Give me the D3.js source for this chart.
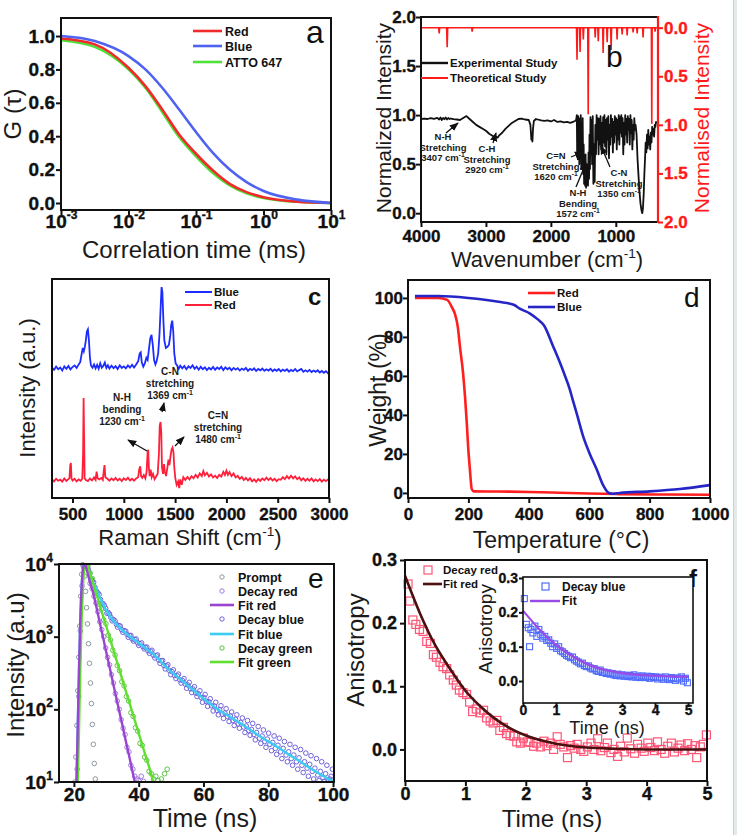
<!DOCTYPE html>
<html>
<head>
<meta charset="utf-8">
<script src="https://cdn.jsdelivr.net/npm/d3@7"></script>
<style>
body { margin:0; background:#fff; }
svg { display:block; font-family:"Liberation Sans", Arial, sans-serif; }
</style>
</head>
<body>
<svg id="fig" width="737" height="835"></svg>
<script>
/// ---------- data ----------
// a : FCS autocorrelation
var fcsTau   = [0.001, 0.00316, 0.01, 0.0178, 0.0316, 0.0562, 0.1, 0.178, 0.316, 0.562, 1, 3.16, 10];
var fcsRed   = [0.985, 0.95, 0.81, 0.70, 0.56, 0.41, 0.295, 0.195, 0.115, 0.065, 0.035, 0.008, 0.0];
var fcsBlue  = [1.0, 0.97, 0.88, 0.80, 0.69, 0.56, 0.425, 0.30, 0.20, 0.125, 0.072, 0.02, 0.0];
var fcsGreen = [0.975, 0.935, 0.80, 0.69, 0.545, 0.395, 0.28, 0.18, 0.105, 0.058, 0.03, 0.007, 0.0];
var fcsTicks = [0.001, 0.01, 0.1, 1, 10];
var fcsTickSup = ['-3', '-2', '-1', '0', '1'];

// b : FTIR, experimental (left axis) and theoretical (right axis, reversed)
var irExp = [[4000,0.96],[3950,0.965],[3900,0.96],[3850,0.97],[3800,0.962],[3750,0.972],[3720,0.955],[3700,0.975],
  [3680,0.95],[3660,0.97],[3640,0.958],[3620,0.975],[3600,0.955],[3580,0.97],[3560,0.96],[3540,0.965],[3500,0.958],
  [3450,0.955],[3400,0.95],[3350,0.97],[3300,0.99],[3260,0.965],[3200,0.93],[3150,0.9],[3100,0.88],[3050,0.86],
  [3000,0.84],[2950,0.81],[2900,0.79],[2870,0.77],[2850,0.78],[2820,0.77],[2800,0.79],[2750,0.82],[2700,0.86],
  [2650,0.89],[2600,0.92],[2550,0.94],[2500,0.96],[2450,0.965],[2400,0.955],[2340,0.95],[2315,0.9],[2300,0.75],
  [2292,0.8],[2284,0.73],[2275,0.86],[2262,0.94],[2230,0.96],[2200,0.955],[2150,0.945],[2100,0.94],[2050,0.945],
  [2000,0.935],[1950,0.95],[1900,0.93],[1850,0.935],[1800,0.925],[1750,0.93],[1700,0.92],[1660,0.93],[1630,0.94],
  [1610,0.95],[1600,1.0],[1595,0.6],[1590,0.98],[1585,0.55],[1580,0.99],[1575,0.62],[1568,0.97],[1562,0.5],[1555,0.96],
  [1548,0.58],[1540,1.0],[1532,0.45],[1525,0.92],[1518,0.52],[1510,0.97],[1502,0.4],[1495,0.7],[1488,0.3],[1480,0.55],
  [1472,0.28],[1465,0.6],[1458,0.26],[1450,0.45],[1442,0.3],[1435,0.5],[1428,0.28],[1420,0.62],[1412,0.35],[1405,0.8],
  [1398,0.45],[1390,0.98],[1380,0.6],[1372,0.95],[1365,0.5],[1355,0.99],[1345,0.3],[1335,0.7],[1325,0.32],[1315,0.9],
  [1305,0.6],[1295,1.0],[1285,0.75],[1275,0.97],[1265,0.6],[1255,0.96],[1245,0.7],[1235,0.99],[1225,0.65],[1215,0.92],
  [1205,0.62],[1195,0.98],[1185,0.72],[1175,1.0],[1165,0.68],[1155,0.95],[1145,0.6],[1135,0.97],[1125,0.75],[1115,0.99],
  [1105,0.56],[1095,0.9],[1085,0.7],[1075,1.0],[1065,0.78],[1055,0.96],[1045,0.62],[1035,0.93],[1025,0.72],[1015,0.99],
  [1005,0.8],[995,0.97],[985,0.65],[975,0.95],[965,0.75],[955,1.0],[945,0.7],[935,0.98],[925,0.82],[915,1.0],[905,0.78],
  [895,0.97],[885,0.6],[875,0.92],[865,0.7],[855,1.0],[845,0.8],[835,0.96],[825,0.72],[815,0.99],[805,0.85],[795,0.96],
  [785,0.7],[775,1.0],[765,0.82],[755,0.95],[745,0.65],[735,0.9],[725,0.75],[715,0.97],[705,0.85],[695,0.9],[680,0.8],
  [665,0.55],[650,0.38],[635,0.22],[620,0.1],[605,0.03],[592,0.0],[582,0.05],[570,0.2],[560,0.4],[550,0.55],[540,0.72],
  [530,0.62],[520,0.8],[510,0.66],[500,0.85],[490,0.7],[480,0.78],[470,0.65],[460,0.82],[450,0.72],[440,0.88],[430,0.8],
  [420,0.86],[410,0.78],[400,0.9],[390,0.88],[380,0.93],[370,0.92]];
var irTheo = [[4000,0],[3728,0],[3720,0.06],[3712,0],[3605,0],[3597,0.2],[3589,0],[3220,0],[3212,0.04],[3204,0],
  [1605,0],[1597,0.33],[1590,0],[1558,0],[1550,0.25],[1543,0],[1507,0],[1500,0.12],[1493,0],[1432,0],[1425,0.89],
  [1418,0],[1324,0],[1317,0.1],[1310,0],[1277,0],[1270,0.14],[1263,0],[1202,0],[1195,0.26],[1188,0],[1140,0],
  [1133,0.15],[1126,0],[1079,0],[1072,0.23],[1065,0],[987,0],[980,0.12],[973,0],[909,0],[902,0.07],[895,0],[832,0],
  [825,0.08],[818,0],[740,0],[733,0.05],[726,0],[678,0],[671,0.06],[664,0],[587,0],[580,0.1],[573,0],[452,0],
  [446,0.99],[440,0],[401,0],[395,0.04],[389,0],[350,0]];

// c : Raman
var ramanBlue = [[300,59.5],[320,58.5],[340,60],[360,58.8],[380,59.6],[400,58.2],[420,60.1],[440,59],[460,60.3],[480,58.7],
  [500,59.8],[520,60.5],[540,59.4],[560,61],[575,62],[590,66],[600,68.5],[610,67],[620,69],[630,72],[640,76],[650,77],
  [660,72],[670,64],[680,60.5],[695,59.5],[710,61],[725,59.2],[740,60.8],[755,59],[770,61.5],[785,59.5],[800,60.3],
  [815,61.8],[830,59.4],[845,60.6],[860,59.1],[880,60.4],[900,59.3],[920,60.2],[940,58.9],[960,60.6],[980,59.4],
  [1000,60.1],[1020,59.2],[1040,60.5],[1060,59.5],[1080,60.8],[1100,59.6],[1120,61],[1140,62.5],[1155,66],[1165,66.5],
  [1175,62],[1190,60],[1205,61.5],[1220,64],[1232,63],[1245,68],[1258,73],[1270,74.5],[1282,70],[1295,63],[1308,61],
  [1320,62.5],[1335,66],[1348,75],[1360,88],[1368,96.3],[1376,94],[1385,82],[1395,72],[1410,68.5],[1425,69],[1440,70],
  [1452,74],[1462,79],[1472,81],[1482,76],[1492,66],[1505,61.5],[1520,60.5],[1535,59],[1550,60.4],[1570,59.2],[1590,60.3],
  [1610,58.8],[1630,60.1],[1650,59.4],[1670,60.6],[1690,59],[1710,60],[1730,58.6],[1750,59.9],[1770,58.8],[1790,59.7],
  [1810,58.4],[1830,59.5],[1850,58.7],[1870,59.8],[1890,58.5],[1910,59.6],[1930,58.9],[1950,59.9],[1970,58.4],[1990,59.7],
  [2010,58.8],[2030,59.5],[2050,58.3],[2070,59.4],[2090,58.6],[2110,59.3],[2130,58.2],[2150,59.1],[2170,58.5],[2190,59.4],
  [2210,58.1],[2230,59],[2250,58.4],[2270,59.2],[2290,58],[2310,58.9],[2330,58.3],[2350,59.1],[2370,58.1],[2390,58.8],
  [2410,58.2],[2430,59],[2450,57.9],[2470,58.7],[2490,58.1],[2510,58.9],[2530,57.8],[2550,58.6],[2570,58],[2590,58.8],
  [2610,57.7],[2630,58.5],[2650,57.9],[2670,58.9],[2690,57.8],[2710,58.4],[2730,58.9],[2750,57.6],[2770,58.3],[2790,57.7],
  [2810,58.5],[2830,57.5],[2850,58.2],[2870,57.6],[2890,58.3],[2910,57.3],[2930,58],[2950,57.2],[2970,57.9],[2990,57],[3000,57.4]];
var ramanRed = [[300,8.5],[320,7.6],[340,8.8],[360,7.9],[380,8.4],[400,7.5],[420,8.9],[440,7.8],[460,8.6],[470,9],[478,15],
  [484,16],[490,9],[500,8],[520,8.8],[540,7.6],[560,8.5],[580,7.9],[595,8.8],[603,20],[608,45.7],[613,28],[618,9],[630,8.2],
  [650,7.7],[670,8.9],[690,8],[710,9.4],[725,8.3],[735,12],[745,9],[760,8.5],[780,9.1],[795,8.2],[805,12.5],[812,15],
  [820,9.5],[840,8.8],[860,7.9],[880,8.9],[900,8.1],[920,9.2],[940,8],[960,8.8],[980,7.7],[1000,9],[1020,8.2],[1040,9.3],
  [1060,8],[1080,8.8],[1100,7.9],[1120,8.9],[1140,9.5],[1150,13],[1160,14.5],[1168,10],[1180,9.2],[1195,10.5],[1210,9],
  [1222,12],[1232,21],[1238,22],[1244,14],[1252,10],[1262,13],[1272,9.5],[1285,11],[1300,8.6],[1315,9.8],[1330,11],
  [1342,20],[1350,33],[1358,34.7],[1365,30],[1372,14],[1382,11],[1392,15.5],[1400,12],[1412,10],[1425,14],[1435,17.5],
  [1445,15],[1455,19],[1465,22],[1475,23],[1484,21],[1492,14],[1502,9],[1515,6],[1530,7.5],[1540,4.5],[1550,8.5],
  [1565,6],[1580,9.5],[1600,8.2],[1620,9.6],[1640,8.5],[1660,10],[1680,9],[1700,10.6],[1720,9.3],[1740,11.2],[1760,10],
  [1775,12.3],[1790,10.4],[1810,11.5],[1830,9.8],[1850,10.8],[1870,9.4],[1890,10.2],[1910,9.1],[1930,10.6],[1950,9.8],
  [1970,11.9],[1985,10.5],[2000,12.5],[2015,10.6],[2030,11.8],[2050,10],[2070,11.2],[2090,9.4],[2110,10.1],[2130,8.7],
  [2150,9.6],[2170,8.2],[2190,9.2],[2210,8],[2230,9],[2250,7.6],[2270,8.5],[2290,7.4],[2310,8.6],[2330,7.8],[2350,8.9],
  [2370,8.1],[2390,9.3],[2410,8.2],[2430,9.1],[2450,8],[2470,8.8],[2490,7.7],[2510,8.6],[2530,8.3],[2550,9.5],[2570,8.6],
  [2590,10],[2610,8.9],[2630,10.2],[2650,9],[2670,9.9],[2690,8.6],[2710,9.4],[2730,8.1],[2750,9],[2770,7.8],[2790,8.8],
  [2810,7.9],[2830,8.9],[2850,7.6],[2870,8.5],[2890,7.7],[2910,8.6],[2930,7.5],[2950,8.4],[2970,7.7],[2990,8.5],[3000,8]];

// d : TGA
var tgaRed  = [[23,100],[60,100],[100,100],[130,99],[146,95],[155,92],[165,85],[172,75],[182,62],[189,49],[195,35],
  [199,24],[205,12],[211,2],[218,0.8],[300,0.7],[400,0.5],[500,0.1],[600,-0.3],[700,-0.6],[850,-0.8],[1000,-0.9]];
var tgaBlue = [[23,101],[100,101],[200,100],[300,98],[350,96.5],[370,94.5],[404,92],[430,89],[450,86],[481,75],
  [500,68],[520,60],[536,53],[545,48],[560,40],[580,29],[602,20],[625,12],[646,4],[665,0],[680,-0.4],[700,0],
  [800,0.8],[900,2],[1000,4]];

// e : TCSPC decays
var prompt = [[20.3,10],[20.6,22],[20.9,60],[21.2,180],[21.5,520],[21.8,1400],[22.1,3600],[22.4,7200],[22.7,9800],
  [23.0,9200],[23.3,6800],[23.6,4200],[23.9,2500],[24.2,1500],[24.5,800],[24.8,430],[25.1,230],[25.4,120],[25.7,62],
  [26.0,33],[26.3,18],[26.6,11]];
var decayRed = [[21.0,15],[21.5,150],[22,1200],[22.5,5000],[23,9000],[24.3,9000],[25,5400],[25.6,4600],[26.2,3600],
  [26.8,2900],[27.4,2200],[28,1600],[28.6,1250],[29.2,1000],[29.8,700],[30.4,520],[31,410],[31.6,300],[32.2,230],
  [32.8,165],[33.4,130],[34,100],[34.6,72],[35.2,55],[35.8,45],[36.4,30],[37,26],[37.6,17],[38.2,15],[38.8,12],
  [39.4,11],[40,10.5],[40.8,12],[41.5,10.2]];
var fitRed = [[20.8,10],[21.2,60],[21.6,400],[22.0,1800],[22.4,5000],[22.8,8500],[23.2,9900],[23.6,9600],[24.0,8200],
  [25,5500],[26,3900],[27,2500],[28,1550],[29,980],[30,610],[31,385],[32,240],[33,150],[34,94],[35,60],[36,37],
  [37,23.5],[38,14.5],[38.8,10]];
var decayBlue = [[24.5,8300],[25.3,6200],[26.1,5600],[27,4200],[27.8,3800],[28.6,2900],[29.4,2700],[30.2,2100],[31,2050],
  [31.8,1650],[32.7,1650],[33.5,1350],[34.3,1400],[35.1,1150],[36,1190],[36.8,980],[37.6,1040],[38.4,870],[39.2,930],
  [40,760],[40.9,820],[41.7,680],[42.5,720],[43.3,590],[44.1,650],[45,510],[45.8,560],[46.6,430],[47.4,470],[48.2,360],
  [49,410],[49.9,300],[50.7,350],[51.5,265],[52.3,305],[53.1,230],[54,265],[54.8,195],[55.6,235],[56.4,170],[57.2,205],
  [58,150],[58.9,180],[59.7,125],[60.5,160],[61.3,110],[62.1,140],[63,95],[63.8,125],[64.6,84],[65.4,112],[66.2,75],
  [67,102],[67.9,68],[68.7,92],[69.5,60],[70.3,84],[71.1,55],[72,76],[72.8,48],[73.6,70],[74.4,44],[75.2,64],[76,38],
  [76.9,58],[77.7,34],[78.5,52],[79.3,30],[80.1,47],[81,27],[81.8,43],[82.6,24],[83.4,40],[84.2,21],[85,36],[85.9,19],
  [86.7,33],[87.5,17],[88.3,30],[89.1,15],[90,28],[90.8,13.5],[91.6,25],[92.4,12],[93.2,23],[94,11],[94.9,21],[95.7,10.5],
  [96.5,19],[97.3,10.2],[98.1,17],[99,11],[99.8,15],
  [24.9,7400],[25.7,5900],[26.5,4800],[27.4,4000],[28.2,3250],[29,2850],[29.8,2450],[30.6,2150],[31.4,1850],[32.2,1720],
  [33.1,1480],[33.9,1420],[34.7,1250],[35.5,1210],[36.4,1080],[37.2,1030],[38,930],[38.8,910],[39.6,830],[40.4,800],
  [41.3,730],[42.1,710],[42.9,640],[43.7,630],[44.5,560],[45.4,545],[46.2,475],[47,465],[47.8,400],[48.6,395],[49.4,345],
  [50.3,330],[51.1,292],[51.9,290],[52.7,255],[53.5,250],[54.4,222],[55.2,216],[56,192],[56.8,190],[57.6,168],[58.4,164],
  [59.3,145],[60.1,146],[60.9,128],[61.7,127],[62.5,112],[63.4,111],[64.2,97],[65,99],[65.8,86],[66.6,89],[67.4,80],
  [68.3,81],[69.1,70],[69.9,73],[70.7,63],[71.5,66],[72.4,57],[73.2,59],[74,51],[74.8,53],[75.6,45],[76.4,48],[77.3,40],
  [78.1,43],[78.9,36],[79.7,39],[80.5,33],[81.4,35],[82.2,29],[83,32],[83.8,26],[84.6,29],[85.5,23.5],[86.3,26],[87.1,21],
  [87.9,23.5],[88.7,19],[89.5,21.5],[90.4,17],[91.2,19],[92,15.5],[92.8,17.5],[93.6,14],[94.4,15.5],[95.3,12.5],[96.1,14],
  [96.9,11.5],[97.7,13],[98.5,10.6],[99.4,12]];
var fitBlue = [[20.8,10],[21.2,60],[21.6,400],[22.0,1800],[22.4,5000],[22.8,8500],[23.2,9900],[23.6,9700],[24,9000],
  [25,7000],[26,5500],[27,4400],[28,3500],[29,2800],[30,2300],[31,1950],[32,1700],[34,1350],[36,1120],[38,950],[40,820],
  [42,700],[44,600],[46,500],[48,400],[50,330],[52,280],[54,235],[56,198],[58,168],[60,140],[62,120],[64,103],[66,90],
  [68,80],[70,70],[72,62],[74,54],[76,47],[78,41],[80,36],[82,32],[84,28],[86,24.5],[88,21.5],[90,19],[92,16.5],
  [94,14.5],[96,12.8],[98,11.4],[100,10.2]];
var decayGreen = [[24.3,9500],[25,7500],[25.7,6300],[26.4,4600],[27.1,3900],[27.8,2800],[28.5,2400],[29.2,1700],
  [29.9,1500],[30.6,1050],[31.3,900],[32,650],[32.7,560],[33.4,400],[34.1,340],[34.8,240],[35.5,210],[36.2,150],
  [36.9,130],[37.6,90],[38.3,80],[39,56],[39.7,50],[40.4,34],[41.1,32],[41.8,22],[42.5,20],[43.2,14],[43.9,13],
  [44.6,11],[45.3,12],[46,10.5],[47,11],[48,13],[48.8,15]];
var fitGreen = [[21.2,10],[21.6,60],[22.0,400],[22.4,1800],[22.8,5000],[23.2,8600],[23.6,9900],[24.0,9700],[25,7300],
  [26,5300],[28,2700],[30,1380],[32,700],[34,355],[36,180],[38,92],[40,47],[42,24],[44,12.2],[44.5,10]];

// f : anisotropy
var anisoRed = [[0.05,0.262],[0.08,0.235],[0.13,0.205],[0.18,0.198],[0.24,0.19],[0.3,0.187],[0.36,0.171],[0.42,0.168],
  [0.47,0.15],[0.52,0.146],[0.58,0.138],[0.63,0.131],[0.69,0.128],[0.74,0.118],[0.8,0.11],[0.85,0.102],[0.9,0.094],
  [0.96,0.09],[1.02,0.087],[1.07,0.075],[1.12,0.06],[1.18,0.064],[1.24,0.058],[1.3,0.062],[1.35,0.05],[1.41,0.045],
  [1.46,0.042],[1.52,0.046],[1.57,0.03],[1.63,0.035],[1.68,0.025],[1.74,0.022],[1.8,0.021],[1.85,0.012],[1.91,0.01],
  [1.96,0.018],[2.02,0.012],[2.07,0.011],[2.13,0.005],[2.18,0.01],[2.24,0.004],[2.3,0.013],[2.35,0.006],[2.41,0.01],
  [2.46,0.0],[2.52,0.02],[2.57,0.008],[2.63,0.004],[2.69,-0.013],[2.74,0.006],[2.8,0.002],[2.85,0.008],[2.91,0.0],
  [2.96,-0.003],[3.02,0.004],[3.08,0.01],[3.13,0.0],[3.19,0.017],[3.24,-0.002],[3.3,0.003],[3.35,0.01],[3.41,-0.005],
  [3.46,0.0],[3.52,-0.011],[3.57,0.005],[3.63,-0.004],[3.68,0.018],[3.74,0.001],[3.8,-0.006],[3.85,0.008],[3.91,0.002],
  [3.96,-0.003],[4.02,0.01],[4.07,0.003],[4.13,-0.002],[4.18,0.012],[4.24,0.0],[4.3,-0.006],[4.35,0.005],[4.41,0.01],
  [4.46,-0.004],[4.52,0.002],[4.57,0.007],[4.63,-0.002],[4.68,0.009],[4.74,0.0],[4.8,0.006],[4.83,-0.013],[4.89,0.004],
  [4.94,0.008],[4.99,0.023]];
var anisoFitRed = [[0,0.275],[0.25,0.215],[0.5,0.165],[0.75,0.127],[1.0,0.093],[1.25,0.068],[1.5,0.048],[1.75,0.033],
  [2,0.022],[2.5,0.009],[3,0.003],[3.5,0.001],[4,0.0],[5,0.0]];
var anisoBlue = [[0.04,0.24],[0.1,0.165],[0.16,0.155],[0.2,0.1],[0.24,0.15],[0.3,0.14],[0.36,0.16],[0.42,0.13],[0.48,0.15],
  [0.54,0.135],[0.6,0.125],[0.66,0.13],[0.72,0.118],[0.78,0.12],[0.84,0.11],[0.9,0.1],[0.96,0.108],[1.02,0.095],[1.08,0.1],
  [1.14,0.088],[1.2,0.085],[1.26,0.08],[1.32,0.075],[1.38,0.072],[1.44,0.068],[1.5,0.07],[1.56,0.062],[1.62,0.058],
  [1.68,0.055],[1.74,0.05],[1.8,0.052],[1.86,0.045],[1.92,0.042],[1.98,0.044],[2.04,0.038],[2.1,0.035],[2.16,0.036],
  [2.22,0.03],[2.28,0.028],[2.34,0.032],[2.4,0.025],[2.46,0.026],[2.52,0.022],[2.58,0.024],[2.64,0.02],[2.7,0.022],
  [2.76,0.018],[2.82,0.016],[2.88,0.02],[2.94,0.015],[3.0,0.018],[3.06,0.014],[3.12,0.017],[3.18,0.013],[3.24,0.016],
  [3.3,0.012],[3.36,0.018],[3.42,0.011],[3.48,0.014],[3.54,0.01],[3.6,0.015],[3.66,0.012],[3.72,0.01],[3.78,0.014],
  [3.84,0.008],[3.9,0.013],[3.96,0.01],[4.02,0.012],[4.08,0.006],[4.14,0.011],[4.2,0.009],[4.26,0.005],[4.32,0.012],
  [4.38,0.008],[4.44,0.004],[4.5,0.01],[4.56,0.007],[4.62,0.002],[4.68,0.009],[4.74,0.006],[4.8,0.012],[4.86,0.0],
  [4.92,0.008],[4.98,-0.005]];
var anisoFitBlue = [[0,0.205],[0.5,0.15],[1,0.105],[1.5,0.072],[2,0.047],[2.5,0.032],[3,0.023],[3.5,0.018],[4,0.015],[5,0.012]];

/// ---------- helpers ----------
var svg = d3.select('#fig');
var defs = svg.append('defs');
defs.append('marker').attr('id','arr').attr('viewBox','0 0 10 10').attr('refX',9).attr('refY',5)
	.attr('markerWidth',7).attr('markerHeight',7).attr('orient','auto-start-reverse')
	.append('path').attr('d','M0,1 L10,5 L0,9 Z').attr('fill','#111');

// grey strip on the right edge of the scan
svg.append('rect').attr('x',733).attr('y',0).attr('width',4).attr('height',835).attr('fill','#e2eaec');
svg.append('line').attr('x1',733.5).attr('x2',733.5).attr('y1',0).attr('y2',835).attr('stroke','#c5d3d7');

var fmtInt = d3.format('d'), fmt1 = d3.format('.1f');

// lx : label x relative to the axis, ly : absolute label baseline (bottom axes)
function axis(gen, tx, ty, fs, col, lx, ly) {
	var g = svg.append('g').attr('transform','translate(' + tx + ',' + ty + ')').call(gen)
		.attr('font-family', null).attr('font-size', null).attr('font-weight', 'bold');
	g.select('.domain').remove();
	g.selectAll('.tick line').attr('stroke', col).attr('stroke-width', 2);
	g.selectAll('.tick text').attr('fill', col).style('font-size', fs + 'px').style('font-weight','bold')
		.attr('stroke', col).attr('stroke-width', 0.35);
	if (lx !== null) g.selectAll('.tick text').attr('x', lx);
	if (ly !== null) g.selectAll('.tick text').attr('y', ly - ty).attr('dy', null);
	return g;
}
function frame(x0, y0, x1, y1, sw) {
	svg.append('rect').attr('x',x0).attr('y',y0).attr('width',x1 - x0).attr('height',y1 - y0)
		.attr('fill','none').attr('stroke','#111').attr('stroke-width', sw || 2);
}
function title(txt, x, y, fs, rot, col, sup, after) {
	var t = svg.append('text').attr('text-anchor','middle').style('font-size', fs + 'px').attr('fill', col || '#1a1a1a');
	if (rot) t.attr('transform','translate(' + x + ',' + y + ') rotate(-90)').attr('dy','0.36em');
	else t.attr('x', x).attr('y', y);
	t.append('tspan').text(txt);
	if (sup) {
		t.append('tspan').attr('dy', -fs * 0.4).style('font-size', (fs * 0.62) + 'px').text(sup);
		t.append('tspan').attr('dy', fs * 0.4).text(after);
	}
	return t;
}
function label(txt, x, y, fs, bold, col) {
	return svg.append('text').attr('x', x).attr('y', y).style('font-size', fs + 'px')
		.style('font-weight', bold ? 'bold' : 'normal').attr('fill', col || '#111').text(txt);
}
// small multi-line bold annotation, last line gets the "-1" of cm-1
function note(lines, x, y, fs, lh) {
	var t = svg.append('text').attr('text-anchor','middle').style('font-size', fs + 'px')
		.style('font-weight','bold').attr('fill','#1a1a1a');
	lines.forEach(function(l, i) {
		t.append('tspan').attr('x', x).attr('y', y + i * lh).text(l);
		if (i == lines.length - 1) {
			t.append('tspan').attr('dy', -fs * 0.4).style('font-size', (fs * 0.7) + 'px').text('-1');
		}
	});
}
function arrow(x1, y1, x2, y2) {
	svg.append('line').attr('x1',x1).attr('y1',y1).attr('x2',x2).attr('y2',y2)
		.attr('stroke','#111').attr('stroke-width',1.3).attr('marker-end','url(#arr)');
}
function clip(id, x0, y0, x1, y1) {
	defs.append('clipPath').attr('id', id).append('rect').attr('x',x0).attr('y',y0).attr('width',x1 - x0).attr('height',y1 - y0);
}
function supLabels(g, sups, supSize) {
	g.selectAll('.tick text').each(function(d, i) {
		var t = d3.select(this);
		t.text('10');
		t.append('tspan').attr('dy', -supSize * 0.75).style('font-size', supSize + 'px').text(sups[i]);
	});
}

/// ---------- a : FCS ----------
var xA = d3.scaleLog().domain([1e-3, 10]).range([61, 331]);
var yA = d3.scaleLinear().domain([-0.042, 1.108]).range([210, 18]);
var lineA = d3.line().x(function(d){ return xA(d[0]); }).y(function(d){ return yA(d[1]); }).curve(d3.curveMonotoneX);
[[fcsGreen,'#4fe03a'],[fcsRed,'#f02a2a'],[fcsBlue,'#4f63f0']].forEach(function(s) {
	svg.append('path').datum(fcsTau.map(function(t, i){ return [t, s[0][i]]; }))
		.attr('d', lineA).attr('fill','none').attr('stroke', s[1]).attr('stroke-width', 2.6);
});
var gAx = axis(d3.axisBottom(xA).tickValues(fcsTicks).tickSize(5), 0, 210, 19, '#111', null, 228);
supLabels(gAx, fcsTickSup, 12);
axis(d3.axisLeft(yA).tickValues([0,0.2,0.4,0.6,0.8,1.0]).tickSize(5).tickFormat(fmt1), 61, 0, 19, '#111', -6, null);
frame(61, 18, 331, 210);
title('Correlation time (ms)', 194, 258, 24);
title('G (\u03c4)', 12, 114, 24, true);
[['Red','#f02a2a',31],['Blue','#4f63f0',46],['ATTO 647','#4fe03a',62]].forEach(function(l) {
	svg.append('line').attr('x1',193).attr('x2',222).attr('y1',l[2]).attr('y2',l[2]).attr('stroke',l[1]).attr('stroke-width',2.6);
	label(l[0], 225, l[2] + 4.5, 12.5, true);
});
label('a', 306, 43, 32, false);

/// ---------- b : FTIR ----------
var xB = d3.scaleLinear().domain([4000, 350]).range([421, 658]);
var yB = d3.scaleLinear().domain([-0.09, 2.0]).range([222, 17]);
var yB2 = d3.scaleLinear().domain([-0.11, 2.0]).range([17, 222]);
clip('clipB', 421, 17, 658, 222);
svg.append('path').datum(irTheo).attr('clip-path','url(#clipB)')
	.attr('d', d3.line().x(function(d){ return xB(d[0]); }).y(function(d){ return yB2(d[1]); }))
	.attr('fill','none').attr('stroke','#ff1a1a').attr('stroke-width',1.6);
svg.append('path').datum(irExp).attr('clip-path','url(#clipB)')
	.attr('d', d3.line().x(function(d){ return xB(d[0]); }).y(function(d){ return yB(d[1]); }))
	.attr('fill','none').attr('stroke','#111').attr('stroke-width',1.8).attr('stroke-linejoin','round');
axis(d3.axisBottom(xB).tickValues([4000,3000,2000,1000]).tickSize(5).tickFormat(fmtInt), 0, 222, 17, '#111', null, 242);
axis(d3.axisLeft(yB).tickValues([0,0.5,1.0,1.5,2.0]).tickSize(5).tickFormat(fmt1), 421, 0, 17, '#111', -5, null);
axis(d3.axisRight(yB2).tickValues([0,0.5,1.0,1.5,2.0]).tickSize(5).tickFormat(fmt1), 658, 0, 17, '#ff1a1a', 6, null);
frame(421, 17, 658, 222);
svg.append('line').attr('x1',658).attr('x2',658).attr('y1',16).attr('y2',223).attr('stroke','#ff1a1a').attr('stroke-width',2.2);
title('Wavenumber (cm', 547, 267, 22, false, null, '-1', ')');
title('Normalized Intensity', 383, 118, 21, true);
title('Normalised Intensity', 701, 118, 21, true, '#ff1a1a');
svg.append('line').attr('x1',421).attr('x2',448).attr('y1',63).attr('y2',63).attr('stroke','#111').attr('stroke-width',2.4);
label('Experimental Study', 450, 67, 11.5, true);
svg.append('line').attr('x1',421).attr('x2',448).attr('y1',78).attr('y2',78).attr('stroke','#ff1a1a').attr('stroke-width',2);
label('Theoretical Study', 450, 82, 11.5, true);
label('b', 606, 67, 30, false);
note(['N-H','Stretching','3407 cm'], 443, 140, 9.5, 10.5);
arrow(446, 133, 458, 123);
note(['C-H','Stretching','2920 cm'], 487, 152, 9.5, 10.5);
arrow(493, 143, 496, 133);
note(['C=N','Stretching','1620 cm'], 556, 159, 9.5, 10.5);
arrow(571, 157, 583, 152);
note(['N-H','Bending','1572 cm'], 578, 196, 9.5, 10.5);
arrow(576, 187, 586, 163);
note(['C-N','Stretching','1350 cm'], 619, 176, 9.5, 10.5);
arrow(610, 167, 601, 146);

/// ---------- c : Raman ----------
var xC = d3.scaleLinear().domain([300, 3000]).range([52, 329]);
var yC = d3.scaleLinear().domain([0, 100]).range([498, 279]);
var lineC = d3.line().x(function(d){ return xC(d[0]); }).y(function(d){ return yC(d[1]); });
svg.append('path').datum(ramanRed).attr('d', lineC).attr('fill','none').attr('stroke','#ff1f3a').attr('stroke-width',1.8);
svg.append('path').datum(ramanBlue).attr('d', lineC).attr('fill','none').attr('stroke','#1c2cff').attr('stroke-width',1.8);
axis(d3.axisBottom(xC).tickValues([500,1000,1500,2000,2500,3000]).tickSize(5).tickFormat(fmtInt), 0, 498, 17, '#111', null, 520);
frame(52, 279, 329, 498);
title('Raman Shift (cm', 190, 545, 22, false, null, '-1', ')');
title('Intensity (a.u.)', 27, 388, 22, true);
svg.append('line').attr('x1',185).attr('x2',212).attr('y1',292).attr('y2',292).attr('stroke','#1c2cff').attr('stroke-width',2);
label('Blue', 214, 296, 11.5, true);
svg.append('line').attr('x1',185).attr('x2',212).attr('y1',305).attr('y2',305).attr('stroke','#ff1f3a').attr('stroke-width',2);
label('Red', 214, 309, 11.5, true);
label('c', 308, 305, 24, true);
note(['N-H','bending','1230 cm'], 122, 401, 10, 12);
arrow(147, 451, 128, 440);
note(['C-N','stretching','1369 cm'], 170, 375, 10, 12);
arrow(162, 412, 164, 403);
note(['C=N','stretching','1480 cm'], 218, 419, 10, 12);
arrow(175, 446, 184, 437);

/// ---------- d : TGA ----------
var xD = d3.scaleLinear().domain([0, 1000]).range([408, 710]);
var yD = d3.scaleLinear().domain([-2.6, 109.2]).range([498, 280]);
var lineD = d3.line().x(function(d){ return xD(d[0]); }).y(function(d){ return yD(d[1]); }).curve(d3.curveMonotoneX);
svg.append('path').datum(tgaRed).attr('d', lineD).attr('fill','none').attr('stroke','#ff1f1f').attr('stroke-width',2.6);
svg.append('path').datum(tgaBlue).attr('d', lineD).attr('fill','none').attr('stroke','#2626c8').attr('stroke-width',2.6);
axis(d3.axisBottom(xD).tickValues([0,200,400,600,800,1000]).tickSize(5).tickFormat(fmtInt), 0, 498, 17, '#111', null, 520);
axis(d3.axisLeft(yD).tickValues([0,20,40,60,80,100]).tickSize(5).tickFormat(fmtInt), 408, 0, 17, '#111', -5, null);
frame(408, 280, 710, 498);
title('Temperature (\u00b0C)', 561, 548, 23);
title('Weight (%)', 378, 390, 23, true);
svg.append('line').attr('x1',528).attr('x2',555).attr('y1',293).attr('y2',293).attr('stroke','#ff1f1f').attr('stroke-width',2.6);
label('Red', 557, 297, 11.5, true);
svg.append('line').attr('x1',528).attr('x2',555).attr('y1',307).attr('y2',307).attr('stroke','#2626c8').attr('stroke-width',2.6);
label('Blue', 557, 311, 11.5, true);
label('d', 684, 307, 28, false);

/// ---------- e : lifetime decays ----------
var xE = d3.scaleLinear().domain([15.4, 100.3]).range([59, 334]);
var yE = d3.scaleLog().domain([10, 1e4]).range([782, 564]);
var lineE = d3.line().x(function(d){ return xE(d[0]); }).y(function(d){ return yE(d[1]); }).curve(d3.curveMonotoneX);
clip('clipE', 59, 560, 334, 782);
var gE = svg.append('g').attr('clip-path','url(#clipE)');
function dots(data, col) {
	gE.append('g').selectAll('circle').data(data).enter().append('circle')
		.attr('cx', function(d){ return xE(d[0]); }).attr('cy', function(d){ return yE(d[1]); })
		.attr('r', 2.3).attr('fill','none').attr('stroke', col).attr('stroke-width', 1);
}
dots(decayBlue, '#6f62da');
dots(decayGreen, '#5fc24a');
dots(decayRed, '#a27be0');
dots(prompt, '#8b9aa2');
gE.append('path').datum(fitBlue).attr('d', lineE).attr('fill','none').attr('stroke','#3ccdf2').attr('stroke-width',2.4);
gE.append('path').datum(fitGreen).attr('d', lineE).attr('fill','none').attr('stroke','#5fe02e').attr('stroke-width',2.4);
gE.append('path').datum(fitRed).attr('d', lineE).attr('fill','none').attr('stroke','#9a45d2').attr('stroke-width',2.4);
axis(d3.axisBottom(xE).tickValues([20,40,60,80,100]).tickSize(5).tickFormat(fmtInt), 0, 782, 19, '#111', null, 801);
var gEy = axis(d3.axisLeft(yE).tickValues([10,100,1000,10000]).tickSize(5), 59, 0, 19, '#111', -6, null);
supLabels(gEy, ['1','2','3','4'], 12);
frame(59, 564, 334, 782);
title('Time (ns)', 205, 827, 25);
title('Intensity (a.u)', 15, 665, 24, true);
var legE = [['Prompt','#8b9aa2','dot',577],['Decay red','#a27be0','dot',591],['Fit red','#9a45d2','line',605],
	['Decay blue','#6f62da','dot',619],['Fit blue','#3ccdf2','line',634],['Decay green','#5fc24a','dot',648],
	['Fit green','#5fe02e','line',662]];
legE.forEach(function(l) {
	if (l[2] == 'dot') svg.append('circle').attr('cx',222).attr('cy',l[3]).attr('r',2.2).attr('fill','none').attr('stroke',l[1]);
	else svg.append('line').attr('x1',210).attr('x2',234).attr('y1',l[3]).attr('y2',l[3]).attr('stroke',l[1]).attr('stroke-width',2.6);
	label(l[0], 238, l[3] + 4.5, 12.5, true);
});
label('e', 308, 588, 28, false);

/// ---------- f : anisotropy ----------
var xF = d3.scaleLinear().domain([0, 5]).range([405, 707]);
var yF = d3.scaleLinear().domain([-0.05, 0.3]).range([781, 560]);
svg.append('g').selectAll('rect').data(anisoRed).enter().append('rect')
	.attr('x', function(d){ return xF(d[0]) - 4; }).attr('y', function(d){ return yF(d[1]) - 4; })
	.attr('width', 8).attr('height', 8).attr('fill','none').attr('stroke','#ff5476').attr('stroke-width',1.2);
svg.append('path').datum(anisoFitRed)
	.attr('d', d3.line().x(function(d){ return xF(d[0]); }).y(function(d){ return yF(d[1]); }).curve(d3.curveMonotoneX))
	.attr('fill','none').attr('stroke','#4a1010').attr('stroke-width',2.6);
axis(d3.axisBottom(xF).tickValues([0,1,2,3,4,5]).tickSize(5).tickFormat(fmtInt), 0, 781, 18, '#111', null, 800);
axis(d3.axisLeft(yF).tickValues([0,0.1,0.2,0.3]).tickSize(5).tickFormat(fmt1), 405, 0, 18, '#111', -8, null);
frame(405, 560, 707, 781);
title('Time (ns)', 552, 827, 24);
title('Anisotropy', 355, 650, 24, true);
svg.append('rect').attr('x',424).attr('y',566).attr('width',8).attr('height',8).attr('fill','none').attr('stroke','#ff5476').attr('stroke-width',1.2);
label('Decay red', 443, 574, 11.5, true);
svg.append('line').attr('x1',423).attr('x2',442).attr('y1',584).attr('y2',584).attr('stroke','#4a1010').attr('stroke-width',2.6);
label('Fit red', 443, 588, 11.5, true);
label('f', 689, 587, 24, true);

// inset
var xI = d3.scaleLinear().domain([0, 5.15]).range([523, 693]);
var yI = d3.scaleLinear().domain([-0.064, 0.3]).range([703, 578]);
svg.append('rect').attr('x',523).attr('y',577).attr('width',170).attr('height',126).attr('fill','#fff');
svg.append('g').selectAll('rect').data(anisoBlue).enter().append('rect')
	.attr('x', function(d){ return xI(d[0]) - 3; }).attr('y', function(d){ return yI(d[1]) - 3; })
	.attr('width', 6).attr('height', 6).attr('fill','none').attr('stroke','#4d6bff').attr('stroke-width',1.1);
svg.append('path').datum(anisoFitBlue)
	.attr('d', d3.line().x(function(d){ return xI(d[0]); }).y(function(d){ return yI(d[1]); }).curve(d3.curveMonotoneX))
	.attr('fill','none').attr('stroke','#9a4ae6').attr('stroke-width',2.2);
axis(d3.axisBottom(xI).tickValues([0,1,2,3,4,5]).tickSize(4).tickFormat(fmtInt), 0, 703, 14, '#111', null, 715);
axis(d3.axisLeft(yI).tickValues([0,0.1,0.2,0.3]).tickSize(4).tickFormat(fmt1), 523, 0, 14, '#111', -5, null);
frame(523, 577, 693, 703, 1.6);
title('Time (ns)', 607, 734, 18);
title('Anisotropy', 485, 629, 19, true);
svg.append('rect').attr('x',542).attr('y',583).attr('width',7).attr('height',7).attr('fill','none').attr('stroke','#4d6bff').attr('stroke-width',1.2);
label('Decay blue', 562, 591, 12, true);
svg.append('line').attr('x1',530).attr('x2',560).attr('y1',601).attr('y2',601).attr('stroke','#9a4ae6').attr('stroke-width',2.4);
label('Fit', 562, 605, 12, true);
</script>
</body>
</html>
